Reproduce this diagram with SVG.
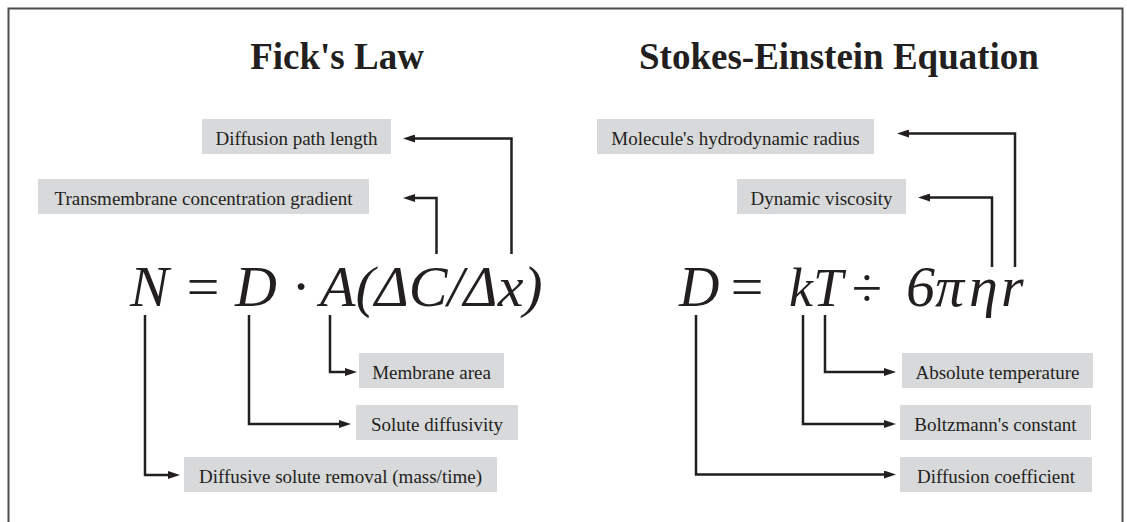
<svg xmlns="http://www.w3.org/2000/svg" width="1127" height="522" viewBox="0 0 1127 522">
<defs>
<style>
.title{font-family:"Liberation Serif","Times New Roman",serif;font-weight:bold;font-size:37px;fill:#231f20;text-anchor:middle}
.eq{font-family:"Liberation Serif","Times New Roman",serif;font-style:italic;font-size:58px;fill:#231f20}
.box{fill:#d8d9da}
.lbl{font-family:"Liberation Serif","Times New Roman",serif;font-size:19px;fill:#231f20;text-anchor:middle}
.conn{fill:none;stroke:#231f20;stroke-width:2.5;marker-end:url(#ah)}
</style>
<marker id="ah" markerWidth="12" markerHeight="8" refX="4" refY="4" orient="auto" markerUnits="userSpaceOnUse">
<path d="M0,0 L12,4 L0,8 z" fill="#231f20"/>
</marker>
</defs>
<rect width="1127" height="522" fill="#ffffff"/>
<path d="M8.5,530 V8.5 H1122.5 V530" fill="none" stroke="#4d4d4d" stroke-width="2"/>

<g id="title-fick"><text class="title" x="337" y="69">Fick's Law</text></g>
<g id="title-stokes"><text class="title" x="839" y="69">Stokes-Einstein Equation</text></g>

<g id="eq-fick"><text class="eq" x="130" y="306">N<tspan x="183">=</tspan><tspan x="235">D</tspan><tspan x="293">·</tspan><tspan x="320">A(ΔC/Δx)</tspan></text></g>
<g id="eq-stokes"><text class="eq" x="679" y="306"><tspan font-size="56">D</tspan><tspan x="727">=</tspan><tspan x="789" font-size="54">kT</tspan><tspan x="851" font-size="55">÷</tspan><tspan x="906">6</tspan><tspan x="935">π</tspan><tspan x="969">η</tspan><tspan x="1001">r</tspan></text></g>

<g id="n-path"><rect class="box" x="202" y="119" width="189" height="35"/><text class="lbl" x="296.5" y="144.5">Diffusion path length</text></g>
<g id="n-grad"><rect class="box" x="38" y="179" width="331" height="35"/><text class="lbl" x="203.5" y="204.5">Transmembrane concentration gradient</text></g>
<g id="n-area"><rect class="box" x="359" y="353" width="145" height="35"/><text class="lbl" x="431.5" y="378.5">Membrane area</text></g>
<g id="n-diff"><rect class="box" x="356" y="405" width="162" height="35"/><text class="lbl" x="437" y="430.5">Solute diffusivity</text></g>
<g id="n-removal"><rect class="box" x="184" y="457" width="313" height="35"/><text class="lbl" x="340.5" y="482.5">Diffusive solute removal (mass/time)</text></g>

<g id="n-radius"><rect class="box" x="597" y="119" width="277" height="35"/><text class="lbl" x="735.5" y="144.5">Molecule's hydrodynamic radius</text></g>
<g id="n-visc"><rect class="box" x="737" y="179" width="169" height="35"/><text class="lbl" x="821.5" y="204.5">Dynamic viscosity</text></g>
<g id="n-temp"><rect class="box" x="902" y="353" width="191" height="35"/><text class="lbl" x="997.5" y="378.5">Absolute temperature</text></g>
<g id="n-boltz"><rect class="box" x="900" y="405" width="191" height="35"/><text class="lbl" x="995.5" y="430.5">Boltzmann's constant</text></g>
<g id="n-coef"><rect class="box" x="900" y="457" width="192" height="35"/><text class="lbl" x="996" y="482.5">Diffusion coefficient</text></g>

<g id="connectors">
<path class="conn" d="M511.5,254 V138.5 H411"/>
<path class="conn" d="M436.5,254 V198 H411"/>
<path class="conn" d="M145,315 V475 H172"/>
<path class="conn" d="M249,315 V424 H343"/>
<path class="conn" d="M330,315 V372 H349"/>
<path class="conn" d="M1015,267 V133.5 H905"/>
<path class="conn" d="M992,267 V197.5 H926"/>
<path class="conn" d="M696,315 V474.5 H888"/>
<path class="conn" d="M803,315 V424 H888"/>
<path class="conn" d="M825,315 V372 H888"/>
</g>
</svg>
